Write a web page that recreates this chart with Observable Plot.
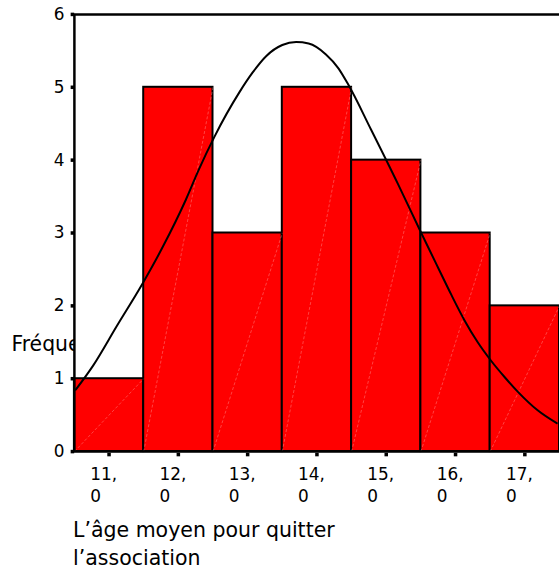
<!DOCTYPE html>
<html>
<head>
<meta charset="utf-8">
<script src="https://cdn.jsdelivr.net/npm/d3@7"></script>
<script src="https://cdn.jsdelivr.net/npm/@observablehq/plot@0.6"></script>
<style>
  html, body { margin: 0; padding: 0; background: #fff; }
  #wrap { position: relative; width: 559px; height: 570px; overflow: hidden; font-family: "DejaVu Sans", sans-serif; }
  #chart { position: absolute; left: 0; top: 0; }
  #title { position: absolute; left: 73px; top: 515.6px; font-size: 20.5px; line-height: 28px; color: #000; white-space: nowrap; }
</style>
</head>
<body>
<div id="wrap">
  <div id="chart"></div>
  <div id="title">L’âge moyen pour quitter<br>l’association</div>
</div>
<script>
const categories = [11, 12, 13, 14, 15, 16, 17];
const frequencies = [1, 5, 3, 5, 4, 3, 2];
const yTicks = [0, 1, 2, 3, 4, 5, 6];
const xTickLabels = ["11,\n0", "12,\n0", "13,\n0", "14,\n0", "15,\n0", "16,\n0", "17,\n0"];
const yLabel = "Fréquence";
const curveX = [10.52, 10.77, 11.11, 11.48, 11.77, 12.11, 12.30, 12.52, 12.88, 13.07, 13.27, 13.50, 13.70, 13.88, 14.13, 14.31, 14.45, 14.78, 15.17, 15.50, 15.75, 15.94, 16.13, 16.32, 16.51, 16.71, 16.90, 17.18, 17.46];
const curveY = [0.85, 1.18, 1.72, 2.30, 2.80, 3.46, 3.88, 4.32, 4.93, 5.20, 5.43, 5.58, 5.62, 5.60, 5.45, 5.26, 5.04, 4.42, 3.67, 3.01, 2.52, 2.15, 1.80, 1.50, 1.25, 1.02, 0.82, 0.57, 0.39];

const bars = categories.map((c, i) => ({c, f: frequencies[i]}));
const curve = curveX.map((x, i) => ({x, y: curveY[i]}));

const chart = Plot.plot({
  width: 562,
  height: 512,
  marginLeft: 74.3,
  marginRight: 0,
  marginTop: 14,
  marginBottom: 58.5,
  style: {fontFamily: "DejaVu Sans, sans-serif", background: "transparent", overflow: "hidden"},
  x: {domain: [10.5, 17.5]},
  y: {domain: [0, 6]},
  marks: [
    Plot.text([yLabel], {frameAnchor: "left", y: 1.47, dx: -63.3, textAnchor: "start", fontSize: 20.5, fill: "#000"}),
    Plot.frame({fill: "white", stroke: "none"}),
    Plot.rect(bars, {x1: d => d.c - 0.5, x2: d => d.c + 0.5, y1: 0, y2: "f", fill: "#ff0000", stroke: "#000", strokeWidth: 2}),
    Plot.link(bars, {x1: d => d.c - 0.5, y1: 0, x2: d => d.c + 0.5, y2: "f", stroke: "#ffa0a0", strokeOpacity: 0.6, strokeWidth: 0.7, strokeDasharray: "3,2"}),
    Plot.line(curve, {x: "x", y: "y", stroke: "#000", strokeWidth: 2, curve: "monotone-x"}),
    Plot.ruleY([6], {stroke: "#000", strokeWidth: 2.5}),
    Plot.ruleY([0], {stroke: "#000", strokeWidth: 2.5}),
    Plot.ruleX([10.5], {y1: 0, y2: 6, stroke: "#000", strokeWidth: 2.5}),
    Plot.dot(yTicks, {x: 10.5, y: d => d, symbol: "square", r: 2, fill: "#000", dx: -2}),
    Plot.dot(categories, {x: d => d, y: 0, symbol: "square", r: 2, fill: "#000", dy: 3}),
    Plot.axisY({ticks: yTicks, tickSize: 0, tickPadding: 10, fontSize: 17, tickFormat: d => String(d), label: null}),
    Plot.axisX({ticks: categories, tickSize: 0, tickPadding: 12, fontSize: 17, textAnchor: "start", dx: -19, lineAnchor: "top", lineHeight: 1.335, tickFormat: (d) => xTickLabels[categories.indexOf(d)], label: null})
  ]
});
document.getElementById("chart").appendChild(chart);
</script>
</body>
</html>
